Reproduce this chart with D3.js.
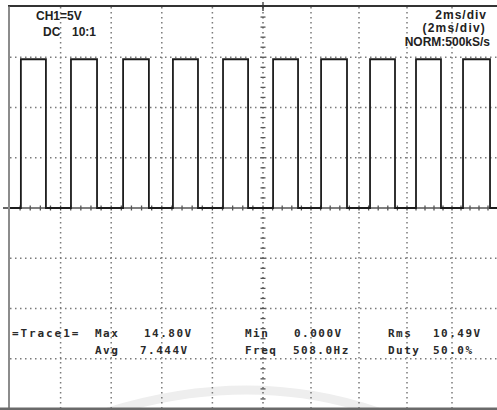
<!DOCTYPE html>
<html>
<head>
<meta charset="utf-8">
<script src="https://cdn.jsdelivr.net/npm/d3@7"></script>
<style>
  html, body { margin: 0; padding: 0; background: #fff; }
  svg { display: block; }
</style>
</head>
<body>
<svg id="scope" width="497" height="410"></svg>
<script>
// Square-wave capture: CH1, 5 V/div, 2 ms/div
const timeDivsMs = d3.range(0, 21, 2);          // vertical graticule, ms
const voltDivs = d3.range(-20, 21, 5);          // horizontal graticule, V
const riseMs = [0.43, 2.41, 4.47, 6.44, 8.42, 10.42, 12.42, 14.46, 16.40, 18.49];
const fallMs = [1.42, 3.44, 5.49, 7.43, 9.41, 11.46, 13.50, 15.50, 17.51, 19.69];
const highV = 14.80;
const lowV = 0.000;

const headerLeft = ["CH1=5V", "DC", "10:1"];
const headerRight = ["2ms/div", "(2ms/div)", "NORM:500kS/s"];
const measLabels = ["Max", "Avg", "Min", "Freq", "Rms", "Duty"];
const measValues = ["14.80V", "7.444V", "0.000V", "508.0Hz", "10.49V", "50.0%"];
const traceLabel = "=Trace1=";

const svg = d3.select("#scope");

// screen is slightly compressed towards the right edge
const x = d3.scaleLinear().domain([0, 10, 16, 20]).range([10, 263, 407, 497]);
const y = d3.scaleLinear().domain([-20, 20]).range([409, 7]);

// soft reflection band across the lower screen
svg.append("path")
  .attr("d", "M108,412 Q250,368 378,412")
  .attr("fill", "none")
  .attr("stroke", "#eeeeee")
  .attr("stroke-width", 9);

// dotted graticule
const grid = svg.append("g").attr("stroke", "#7a7a7a").attr("stroke-width", 1.5)
  .attr("stroke-dasharray", "1.5,3.5");
grid.selectAll("line.v").data(timeDivsMs.filter(t => t > 0 && t < 20 && t !== 10))
  .join("line").attr("class", "v")
  .attr("x1", d => x(d)).attr("x2", d => x(d))
  .attr("y1", y(20)).attr("y2", y(-20));
grid.selectAll("line.h").data(voltDivs.filter(v => v > -20 && v < 20 && v !== 0))
  .join("line").attr("class", "h")
  .attr("x1", x(0)).attr("x2", x(20))
  .attr("y1", d => y(d)).attr("y2", d => y(d));

// centre axes with minor ticks
const axes = svg.append("g").attr("stroke", "#555").attr("stroke-width", 1.3);
axes.append("line").attr("stroke-dasharray", "1.5,3.5")
  .attr("x1", x(10)).attr("x2", x(10)).attr("y1", y(20)).attr("y2", y(-20));
axes.append("line")
  .attr("x1", x(0)).attr("x2", x(20)).attr("y1", y(0)).attr("y2", y(0));
axes.selectAll("line.tx").data(d3.range(0.4, 20, 0.4))
  .join("line").attr("class", "tx")
  .attr("x1", d => x(d)).attr("x2", d => x(d))
  .attr("y1", y(0) - 2.5).attr("y2", y(0) + 2.5);
axes.selectAll("line.ty").data(d3.range(-19, 20, 1))
  .join("line").attr("class", "ty")
  .attr("x1", x(10) - 2.5).attr("x2", x(10) + 2.5)
  .attr("y1", d => y(d)).attr("y2", d => y(d));

// screen border
svg.append("line").attr("x1", 8).attr("x2", 497).attr("y1", y(20) - 1).attr("y2", y(20) - 1)
  .attr("stroke", "#333").attr("stroke-width", 2);
svg.append("line").attr("x1", x(0) - 1).attr("x2", x(0) - 1).attr("y1", y(20) - 1).attr("y2", 410)
  .attr("stroke", "#666").attr("stroke-width", 1.5);
svg.append("rect").attr("x", 0).attr("y", 407.5).attr("width", 497).attr("height", 3)
  .attr("fill", "#6a6a6a");

// ground and trigger markers
svg.append("line").attr("x1", 3).attr("x2", 8).attr("y1", y(0)).attr("y2", y(0))
  .attr("stroke", "#333").attr("stroke-width", 1.5);
svg.append("line").attr("x1", x(10)).attr("x2", x(10)).attr("y1", 2).attr("y2", 11)
  .attr("stroke", "#333").attr("stroke-width", 1.3);

// waveform
const pts = [[0, lowV]];
riseMs.forEach((r, i) => {
  pts.push([r, lowV], [r, highV], [fallMs[i], highV], [fallMs[i], lowV]);
});
pts.push([20, lowV]);
svg.append("path")
  .attr("d", d3.line().x(d => x(d[0])).y(d => y(d[1]))(pts))
  .attr("fill", "none")
  .attr("stroke", "#1c1c1c")
  .attr("stroke-width", 1.8)
  .attr("stroke-linejoin", "miter");

// header text
const hdr = svg.append("g").attr("font-family", "'Liberation Sans', Arial, sans-serif")
  .attr("font-weight", "bold").attr("font-size", 12).attr("fill", "#222");
hdr.append("text").attr("x", 36).attr("y", 20).text(headerLeft[0]);
hdr.append("text").attr("x", 43).attr("y", 36).text(headerLeft[1]);
hdr.append("text").attr("x", 72).attr("y", 36).text(headerLeft[2]);
hdr.append("text").attr("x", 487).attr("y", 19).attr("text-anchor", "end")
  .style("letter-spacing", "1px").text(headerRight[0]);
hdr.append("text").attr("x", 486).attr("y", 32).attr("text-anchor", "end")
  .style("letter-spacing", "1.2px").text(headerRight[1]);
hdr.append("text").attr("x", 490).attr("y", 46).attr("text-anchor", "end")
  .text(headerRight[2]);

// measurement readout
const meas = svg.append("g").attr("font-family", "'DejaVu Sans Mono', monospace")
  .attr("font-weight", "bold").attr("font-size", 11).attr("fill", "#2a2a2a")
  .style("letter-spacing", "1.5px");
const row1 = 337, row2 = 354;
meas.append("text").attr("x", 12).attr("y", row1).style("letter-spacing", "1.9px").text(traceLabel);
const cells = [
  { lx: 95, vx: 144, y: row1 }, { lx: 95, vx: 140, y: row2 },
  { lx: 245, vx: 294, y: row1 }, { lx: 245, vx: 293, y: row2 },
  { lx: 388, vx: 433, y: row1 }, { lx: 388, vx: 433, y: row2 }
];
cells.forEach((c, i) => {
  meas.append("text").attr("x", c.lx).attr("y", c.y).text(measLabels[i]);
  meas.append("text").attr("x", c.vx).attr("y", c.y).text(measValues[i]);
});
</script>
</body>
</html>
